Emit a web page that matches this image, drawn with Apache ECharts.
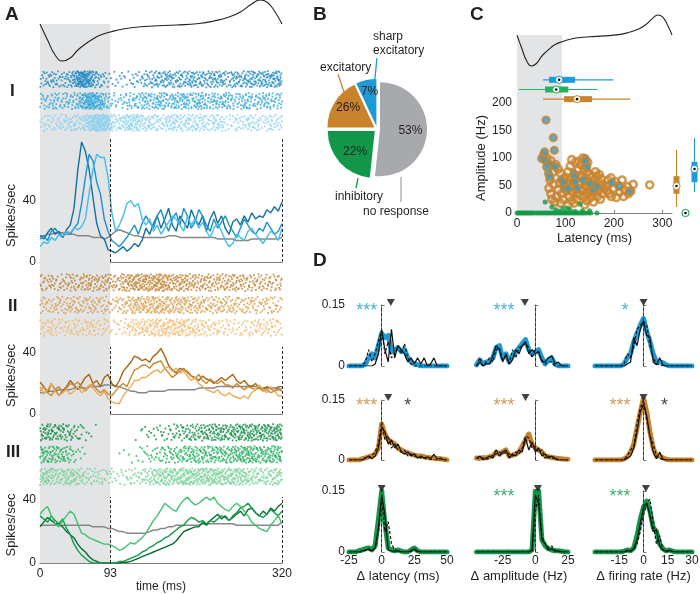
<!DOCTYPE html>
<html><head><meta charset="utf-8">
<script src="https://cdn.jsdelivr.net/npm/echarts@6/dist/echarts.min.js"></script>
<style>html,body{margin:0;padding:0;background:#fff}#c{width:700px;height:594px}</style>
</head><body><div id="c"></div>
<script>
// ================= DATA =================
// Panel A : PSTH time base (ms) and traces (spikes/sec)
const timeMs = [0,5,10,15,20,25,30,35,40,45,50,55,60,65,70,75,80,85,90,95,100,105,110,115,120,125,130,135,140,145,150,155,160,165,170,175,180,185,190,195,200,205,210,215,220,225,230,235,240,245,250,255,260,265,270,275,280,285,290,295,300,305,310,315,320];
const psthIDark  = [17,15,19,22,18,20,16,21,24,35,60,78,72,60,42,25,17,15,8,7,6,8,10,7,9,12,10,14,22,18,25,30,22,28,35,24,20,30,26,22,34,28,24,30,20,28,33,25,30,22,18,26,28,24,30,26,32,28,30,29,34,32,36,33,39];
const psthIMid   = [15,17,14,20,22,18,16,20,18,22,25,38,55,70,66,52,44,28,20,14,12,10,13,16,20,24,18,25,30,26,22,30,34,26,20,28,32,24,35,30,22,26,34,30,24,20,28,22,26,30,24,20,16,22,28,24,20,18,22,20,26,22,18,20,25];
const psthILight = [10,13,12,16,14,18,17,20,19,22,21,23,28,45,60,70,68,68,55,32,20,24,30,38,40,36,38,28,24,28,20,24,18,22,26,30,28,24,20,30,24,28,22,26,20,16,22,25,20,14,10,12,18,16,14,20,22,18,15,12,16,20,18,14,22];
const psthIBase  = [17,17,18,18,19,19,19,18,18,18,17,17,17,17,16,16,16,15,16,18,20,21,20,19,18,17,17,16,16,16,16,16,16,16,17,17,17,16,16,16,16,16,16,16,16,16,16,15,15,15,15,15,14,14,14,14,15,15,15,15,15,15,15,15,16];
const psthIIDark  = [21,18,14,20,16,12,15,18,22,19,16,20,24,26,20,22,18,24,26,20,18,22,28,31,34,38,37,35,36,34,38,40,43,38,32,29,27,30,29,28,25,24,22,25,23,22,20,22,24,22,24,26,22,20,22,19,18,20,17,16,18,17,15,18,18];
const psthIIMid   = [15,18,14,12,16,18,14,17,20,19,21,18,15,18,20,16,14,16,13,12,15,18,20,18,24,29,30,32,32,30,33,34,35,30,27,24,26,28,30,27,25,23,26,22,20,23,21,20,22,19,19,17,20,18,16,18,17,16,17,15,16,14,15,16,15];
const psthIILight = [18,13,16,20,15,12,14,16,13,15,18,14,16,19,17,14,12,15,10,8,7,7,12,15,18,22,22,24,24,26,28,29,27,30,31,28,30,27,28,25,22,24,20,18,16,15,14,16,13,12,14,12,11,10,12,10,14,16,19,16,14,18,15,12,12];
const psthIIBase  = [14,14,15,15,15,16,16,16,16,17,17,17,17,18,18,18,18,19,19,19,18,18,17,16,15,15,14,14,14,15,15,15,15,15,16,16,16,16,16,16,16,16,17,17,17,17,17,18,18,18,18,18,18,18,18,18,18,18,17,17,17,17,17,17,16];
const psthIIIDark  = [23,26,29,27,25,25,23,20,18,16,12,9,7,4,2,1,0,0,0,0,0,0,0.5,0.5,1,2,3,4,5,6,7,8,9,10,11,12,14,17,20,21,22,23,23,26,24,27,29,31,28,30,27,29,31,33,30,34,35,32,30,33,31,35,33,36,38];
const psthIIIMid   = [30,28,26,30,27,25,28,22,18,12,8,5,3,1,0,0,0,0,0,0,0,1,1,2,3,4,5,7,8,10,11,13,14,16,17,19,21,23,24,27,29,28,26,27,25,27,26,28,30,29,27,30,32,35,36,38,35,32,30,29,31,34,32,30,33];
const psthIIILight = [31,34,36,30,25,23,27,30,33,31,25,19,18,16,15,14,13,12,12,11,10,8,9,11,13,12,14,16,19,23,27,30,34,38,36,34,33,37,40,42,39,37,38,40,42,40,42,38,36,34,33,36,38,36,33,30,26,24,22,21,20,24,27,30,25];
const psthIIIBase  = [24,24,24,24,24,24,24,24,24,24,24,24,24,24,23,23,23,23,22,22,21,20,20,19,19,19,19,19,19,20,21,21,22,22,23,23,24,24,24,24,24,24,24,25,25,25,25,25,25,25,25,25,24,24,24,24,24,24,24,24,24,24,24,24,26];
// mean spike waveform (arbitrary units) drawn above A and C
const waveT = [0,10,20,30,40,50,60,70,80,93,110,130,150,180,210,230,250,265,280,291,300,310,320];
const waveV = [37,21,6,0,3,11,17,22,26,29,32,34,35,36,37.5,40,44,49,57,61,59,50,37];
const responseWindowMs = 93;
const timeTicks = [0,93,320];

// Panel B : pie
const pieNames  = ['no response','inhibitory','excitatory','sharp excitatory'];
const pieShares = [51.7,23.3,18,7];
const pieLabels = ['53%','22%','26%','7%'];

// Panel C : latency (ms) vs amplitude (Hz)
const excPoints = [[62,100],[55,105],[70,95],[80,88],[85,80],[75,75],[68,60],[90,72],[66,45],[70,35],[72,25],[78,20],[82,30],[85,42],[75,52],[88,55],[92,35],[95,25],[90,18],[98,48],[100,65],[105,75],[110,85],[113,97],[120,92],[127,94],[132,88],[138,80],[145,75],[150,70],[155,65],[160,60],[165,67],[170,55],[175,50],[180,45],[185,40],[190,35],[195,30],[102,40],[108,30],[112,22],[118,18],[124,25],[130,32],[136,40],[142,48],[148,55],[154,45],[160,38],[166,30],[172,25],[178,35],[184,50],[188,60],[104,55],[110,62],[116,50],[122,42],[128,55],[134,65],[140,58],[146,35],[152,28],[158,20],[164,45],[170,70],[106,15],[114,38],[120,68],[126,78],[132,45],[138,30],[144,22],[150,42],[156,52],[162,75],[168,40],[174,62],[96,62],[118,58],[128,68],[142,85],[136,100],[146,92],[108,48],[124,35],[140,15],[155,35],[194,64],[203,57],[210,50],[217,60],[222,42],[228,48],[235,40],[240,52],[230,35],[212,38],[200,45],[205,28],[220,30],[274,51]];
const sharpPoints = [[60,169],[75,137],[77,114],[57,111],[51,99],[58,96],[65,90],[72,87],[79,84],[61,84],[65,72],[68,65],[141,99],[142,93],[144,84],[117,72],[119,66],[120,57],[92,60],[96,54],[99,45],[106,44],[124,45],[137,60],[151,54],[158,42],[165,48],[196,55],[211,48],[233,39]];
const inhPoints = [[0,0],[3,0],[6,0],[9,0],[12,0],[15,0],[18,0],[21,0],[24,0],[27,0],[30,0],[33,0],[38,0],[42,0],[46,0],[50,0],[54,0],[58,0],[62,0],[66,0],[70,0],[74,0],[78,0],[82,0],[86,0],[90,0],[94,0],[98,0],[102,0],[106,0],[110,0],[114,0],[118,0],[122,0],[126,0],[130,0],[134,0],[138,0],[142,0],[147,0],[152,0],[165,0],[58,20],[130,16],[72,11],[95,8],[110,5],[150,4],[80,6],[120,3],[88,3],[100,2],[135,4],[105,9]];
// box summaries: [whiskerLow, q1, median, q3, whiskerHigh]
const latBoxSharp = [54,66,87,120,199];
const latBoxInh   = [4,58,81,106,166];
const latBoxExc   = [54,97,124,155,234];
const ampBoxExc   = [11,35,49,67,115];
const ampBoxInh   = [0,0,0,0,0];
const ampBoxSharp = [38,56,80,93,136];

// Panel D : distributions (probability)
const dLatX = [-25,-22.5,-20,-17.5,-15,-12.5,-10,-7.5,-5,-2.5,0,2.5,5,7.5,10,12.5,15,17.5,20,22.5,25,27.5,30,32.5,35,37.5,40,42.5,45,47.5,50];
const dAmpX = [-45,-42.5,-40,-37.5,-35,-32.5,-30,-27.5,-25,-22.5,-20,-17.5,-15,-12.5,-10,-7.5,-5,-2.5,0,2.5,5,7.5,10,12.5,15,17.5,20,22.5,25];
const dFrX  = [-30,-28,-26,-24,-22,-20,-18,-16,-14,-12,-10,-8,-6,-4,-2,0,2,4,6,8,10,12,14,16,18,20,22,24,26,28,30];
const latSharpPop   = [0,0,0,0,0,0.005,0.02,0.03,0.02,0.05,0.08,0.07,0.075,0.035,0.04,0.045,0.035,0.04,0.02,0.01,0.005,0.003,0,0,0,0,0,0,0,0,0];
const latSharpSolid = [0,0,0,0,0,0,0,0,0.005,0.03,0.09,0.04,0.01,0.09,0.02,0.05,0.04,0.03,0.01,0.02,0.005,0.02,0.005,0.02,0,0.005,0.02,0,0,0,0];
const latSharpDash  = [0,0,0,0,0,0.01,0.04,0.01,0.03,0.06,0.09,0.03,0.06,0.02,0.03,0.05,0.03,0.055,0.02,0.005,0,0,0,0,0,0,0,0,0,0,0];
const latExcPop     = [0,0,0,0,0.003,0.005,0.008,0.01,0.015,0.03,0.09,0.065,0.05,0.045,0.04,0.03,0.025,0.02,0.018,0.015,0.012,0.01,0.01,0.008,0.006,0.005,0.005,0.004,0.003,0.002,0];
const latExcSolid   = [0,0,0,0,0,0.005,0.01,0.003,0.01,0.03,0.08,0.07,0.04,0.05,0.03,0.04,0.02,0.015,0.02,0.01,0.015,0.005,0.01,0.005,0.008,0.003,0.015,0.002,0.005,0,0];
const latExcDash    = [0,0,0,0,0,0.005,0.005,0.01,0.02,0.04,0.095,0.05,0.06,0.03,0.04,0.025,0.02,0.025,0.01,0.015,0.01,0.008,0.005,0.005,0.003,0.002,0,0,0,0,0];
const latInhPop     = [0,0,0,0.003,0.005,0.008,0.01,0.005,0.015,0.08,0.15,0.07,0.01,0.005,0.003,0.005,0.002,0,0,0.005,0.01,0.003,0,0,0,0,0,0,0,0,0];
const latInhSolid   = [0,0,0,0,0.003,0.005,0.008,0.003,0.01,0.06,0.14,0.09,0.005,0.003,0.002,0.003,0,0,0,0.003,0.008,0.002,0,0,0,0,0,0,0,0,0];
const latInhDash    = [0,0,0,0,0,0.004,0.005,0.003,0.01,0.05,0.13,0.05,0.075,0.02,0.005,0.003,0,0,0,0.002,0.005,0,0,0,0,0,0,0,0,0,0];
const ampSharpPop   = [0.003,0.015,0.005,0.01,0.01,0.02,0.045,0.05,0.02,0.03,0.01,0.025,0.035,0.045,0.055,0.065,0.04,0.03,0.035,0.04,0.02,0.005,0.015,0.02,0.005,0,0,0,0];
const ampSharpSolid = [0,0.01,0,0.005,0.005,0.025,0.05,0.04,0.01,0.03,0.005,0.015,0.04,0.03,0.05,0.06,0.03,0.04,0.03,0.035,0.01,0.01,0.02,0.025,0.005,0.01,0,0,0];
const ampSharpDash  = [0,0.02,0,0.01,0.02,0.01,0.04,0.045,0.015,0.025,0.005,0.04,0.02,0.045,0.05,0.055,0.045,0.02,0.04,0.035,0.015,0.005,0.01,0.01,0,0,0,0,0];
const ampExcPop     = [0.005,0.004,0.006,0.005,0.008,0.01,0.02,0.015,0.02,0.025,0.01,0.012,0.015,0.02,0.035,0.05,0.065,0.04,0.03,0.025,0.02,0.01,0.008,0.006,0.005,0.004,0.003,0.002,0.002];
const ampExcSolid   = [0.005,0.01,0,0.005,0.01,0.005,0.025,0.01,0.02,0.025,0.005,0.015,0.01,0.025,0.02,0.055,0.025,0.045,0.02,0.03,0.01,0.015,0.005,0.01,0.003,0,0,0,0];
const ampExcDash    = [0.003,0.006,0.005,0.002,0.006,0.012,0.015,0.02,0.015,0.02,0.015,0.01,0.02,0.015,0.03,0.06,0.055,0.03,0.035,0.02,0.025,0.005,0.01,0.003,0.008,0,0,0,0];
const ampInhPop     = [0,0,0,0,0,0,0,0,0,0,0,0,0,0,0,0,0,0.005,0.15,0.15,0.03,0.015,0.008,0.005,0.003,0.003,0.002,0,0];
const ampInhSolid   = [0,0,0,0,0,0,0,0,0,0,0,0,0,0,0,0,0,0.005,0.14,0.12,0.03,0.02,0.005,0.008,0.002,0.003,0,0,0];
const ampInhDash    = [0,0,0,0,0,0,0,0,0,0,0,0,0,0,0,0,0,0.002,0.1,0.14,0.04,0.02,0.01,0.015,0.005,0,0,0,0];
const frSharpPop    = [0,0,0,0,0,0,0,0,0,0.005,0.02,0.03,0.06,0.08,0.1,0.117,0.085,0.06,0.03,0.01,0.01,0.008,0.003,0,0,0,0,0,0,0,0];
const frSharpSolid  = [0,0,0,0,0,0,0,0,0,0,0.005,0.01,0.07,0.05,0.09,0.11,0.075,0.07,0.01,0.003,0.02,0.003,0,0,0,0,0,0,0,0,0];
const frSharpDash   = [0,0,0,0,0,0,0,0,0,0.005,0.03,0.02,0.05,0.09,0.1,0.11,0.1,0.05,0.02,0.005,0.003,0,0,0,0,0,0,0,0,0,0];
const frExcPop      = [0,0,0,0,0,0,0,0,0,0.003,0.008,0.02,0.04,0.08,0.12,0.155,0.12,0.07,0.03,0.01,0.01,0.005,0.002,0,0,0,0,0,0,0,0];
const frExcSolid    = [0,0,0,0,0,0,0,0,0,0,0.005,0.01,0.03,0.07,0.12,0.14,0.11,0.06,0.02,0.003,0.02,0.002,0,0,0,0,0,0,0,0,0];
const frExcDash     = [0,0,0,0,0,0,0,0,0,0.002,0.01,0.025,0.035,0.09,0.13,0.15,0.1,0.06,0.04,0.01,0.005,0,0,0,0,0,0,0,0,0,0];
const frInhPop      = [0,0,0,0,0,0,0,0,0,0.002,0.005,0.003,0.01,0.04,0.08,0.11,0.125,0.1,0.06,0.05,0.02,0.008,0.003,0.005,0.002,0,0,0,0,0,0];
const frInhSolid    = [0,0,0,0,0,0,0,0,0,0,0.004,0.002,0.008,0.03,0.07,0.11,0.12,0.09,0.05,0.055,0.015,0.005,0.002,0.004,0.001,0,0,0,0,0,0];
const frInhDash     = [0,0,0,0,0,0,0,0,0,0,0.003,0.003,0.006,0.02,0.05,0.09,0.12,0.13,0.07,0.02,0.04,0.005,0.002,0.003,0,0,0,0,0,0,0];
const dMedians = [[7,-8,0],[5,-7.5,0],[0,2,1.5]];
const starRow   = [0,0,0,1,1,1,1,1,2,2];
const starCol   = [0,1,2,0,0,1,2,2,1,2];
const starX     = [-11.5,-24,-11.5,-11.5,20,-24,-14.5,13,-24,-14.5];
const starText  = ['***','***','*','***','*','***','***','*','***','***'];
const starGroup = [0,0,0,1,-1,1,1,-1,2,2];

// ================= STYLE / LAYOUT =================
const FONT = '"Liberation Sans", Arial, Helvetica, sans-serif';
const TXT = '#231f20', AXC = '#7f7f7f';
const BLUE = '#1d9bd7', ORANGE = '#c8832c', GREEN = '#12964a', PIEGRAY = '#a7a9ac';
const groupColor = [BLUE, ORANGE, GREEN];
const psthCols = [['#13709f','#1c93c9','#45bde8'],['#a8640f','#c98a35','#e8ab5c'],['#056d30','#109c49','#3fc170']];
const rasterCols = [['#1a87c1','#29a6db','#85cff0'],['#c07e2a','#d79a42','#f0b768'],['#0b8b41','#1aae58','#74d093']];
const psthSets = [[psthIDark,psthIMid,psthILight,psthIBase],[psthIIDark,psthIIMid,psthIILight,psthIIBase],[psthIIIDark,psthIIIMid,psthIIILight,psthIIIBase]];

const grids = [], xAxes = [], yAxes = [], series = [];
function addGrid(box, xa, ya) {
  grids.push(Object.assign({containLabel:false, outerBoundsMode:'none', show:false}, box));
  const gi = grids.length - 1;
  xAxes.push(Object.assign({gridIndex:gi}, xa));
  yAxes.push(Object.assign({gridIndex:gi}, ya));
  return gi;
}
const hid = (min, max, extra) => Object.assign({type:'value', min, max, show:false}, extra || {});
const axLine = {show:true, lineStyle:{color:AXC, width:1}};
const labelStyle = {color:TXT, fontSize:12, fontFamily:FONT};
const zip = (xs, ys) => xs.map((x, i) => [x, ys[i]]);

// ---- A: background shading, waveform
let g = addGrid({left:40, top:24, width:242, height:539}, hid(0,320), hid(0,1));
series.push({type:'line', xAxisIndex:g, yAxisIndex:g, data:[], z:0, silent:true,
  markArea:{silent:true, itemStyle:{color:'#e3e4e6'}, data:[[{xAxis:0},{xAxis:responseWindowMs}]]}});
g = addGrid({left:40, top:0, width:242, height:61}, hid(0,320), hid(0,61));
series.push({type:'line', xAxisIndex:g, yAxisIndex:g, data:zip(waveT, waveV), smooth:0.5, showSymbol:false, clip:false,
  lineStyle:{color:'#222', width:1.1}, silent:true});

// ---- A: rasters. Dots come from a Halton point set warped through each trace's
// cumulative firing rate, so dot density follows the PSTH values read above.
const RASTER_DENSITY = 75, BAND_ROWS = 15;
function rateAt(rates, t) {
  const i = Math.min(Math.floor(t / 5), timeMs.length - 2);
  const f = (t - timeMs[i]) / 5;
  return rates[i] * (1 - f) + rates[i + 1] * f;
}
function halton(i, b) { let f = 1, r = 0; while (i > 0) { f /= b; r += f * (i % b); i = Math.floor(i / b); } return r; }
function spikeRaster(rates, band, panel) {
  const cum = [0];
  for (let t = 1; t <= 320; t++) cum.push(cum[t - 1] + (rateAt(rates, t - 1) + rateAt(rates, t)) / 2000);
  const total = cum[320], n = Math.round(total * RASTER_DENSITY), out = [];
  const off = 1 + band * 1777 + panel * 5333;
  for (let i = 0; i < n; i++) {
    const u = halton(i + off, 2) * total;
    const v = halton(i + off, 3);
    let lo = 0, hi = 320;
    while (hi - lo > 1) { const m = (lo + hi) >> 1; if (cum[m] < u) lo = m; else hi = m; }
    const d = cum[hi] - cum[lo];
    const t = d > 0 ? lo + (u - cum[lo]) / d : lo;
    out.push([t, band * 20 + v * BAND_ROWS]);
  }
  return out;
}
const rasterBoxes = [{top:70,height:62},{top:273,height:64},{top:423,height:63}];
const psthBoxes = [{top:139,height:123,max:80,namePad:[0,30,0,0]},{top:347,height:67,max:44,namePad:[0,0,0,10]},{top:497,height:66,max:42,namePad:[0,0,0,10]}];
for (let p = 0; p < 3; p++) {
  g = addGrid({left:40, width:242, top:rasterBoxes[p].top, height:rasterBoxes[p].height}, hid(0,320), hid(-1,56,{inverse:true}));
  for (let b = 0; b < 3; b++) {
    series.push({type:'scatter', xAxisIndex:g, yAxisIndex:g, data:spikeRaster(psthSets[p][b], b, p), symbol:'rect',
      symbolSize:1.8, itemStyle:{color:rasterCols[p][b]}, silent:true, animation:false});
  }
  const last = p === 2;
  g = addGrid({left:40, width:242, top:psthBoxes[p].top, height:psthBoxes[p].height},
    {type:'value', min:0, max:320, axisLine:axLine, splitLine:{show:false},
     axisTick:{show:last, inside:true, length:3, customValues:timeTicks, lineStyle:{color:AXC}},
     axisLabel:Object.assign({show:last, margin:5, customValues:timeTicks}, labelStyle),
     name: last ? 'time (ms)' : '', nameLocation:'middle', nameGap:15, nameTextStyle:{color:TXT, fontSize:12, fontFamily:FONT}},
    {type:'value', min:0, max:psthBoxes[p].max, interval:20, axisLine:axLine, splitLine:{show:false},
     axisTick:{show:true, inside:true, length:3, lineStyle:{color:AXC}},
     axisLabel:Object.assign({margin:4, formatter:v => (v === 0 || v === 40) ? String(v) : ''}, labelStyle),
     name:'Spikes/sec', nameLocation:'middle', nameGap:22,
     nameTextStyle:{color:TXT, fontSize:13, fontFamily:FONT, padding:psthBoxes[p].namePad}});
  series.push({type:'line', xAxisIndex:g, yAxisIndex:g, data:zip(timeMs, psthSets[p][3]), showSymbol:false, silent:true,
    lineStyle:{color:'#878787', width:1.5},
    markLine:{silent:true, symbol:['none','none'], label:{show:false}, lineStyle:{type:[3,2], color:'#333', width:1},
      data:[{xAxis:responseWindowMs},{xAxis:320}]}});
  for (let b = 0; b < 3; b++) {
    series.push({type:'line', xAxisIndex:g, yAxisIndex:g, data:zip(timeMs, psthSets[p][b]), showSymbol:false, silent:true,
      lineStyle:{color:psthCols[p][b], width:1.4}});
  }
}

// ---- B: pie
series.push({type:'pie', center:[377,129], radius:47, startAngle:90, clockwise:true, selectedMode:'multiple',
  selectedOffset:3, silent:true, animation:false, emphasis:{disabled:true},
  label:{show:true, position:'inside', formatter:p => pieLabels[p.dataIndex], color:TXT, fontSize:12, fontFamily:FONT},
  labelLine:{show:false},
  labelLayout:p => [{dx:4,dy:0},{dx:0,dy:3},{dx:-4,dy:-6},{dx:-1,dy:-9}][p.dataIndex],
  data:pieNames.map((n, i) => ({name:n, value:pieShares[i], selected:true,
    itemStyle:{color:[PIEGRAY, GREEN, ORANGE, BLUE][i]}}))});

// ---- C: shading, waveform, scatter, box plots
g = addGrid({left:517, top:35, width:155, height:178}, hid(0,320), hid(0,1));
series.push({type:'line', xAxisIndex:g, yAxisIndex:g, data:[], z:0, silent:true,
  markArea:{silent:true, itemStyle:{color:'#e3e4e6'}, data:[[{xAxis:0},{xAxis:responseWindowMs}]]}});
g = addGrid({left:517, top:15, width:155, height:51}, hid(0,320), hid(0,61));
series.push({type:'line', xAxisIndex:g, yAxisIndex:g, data:zip(waveT, waveV), smooth:0.5, showSymbol:false, clip:false,
  lineStyle:{color:'#222', width:1.1}, silent:true});
g = addGrid({left:517, top:103, width:155, height:110},
  {type:'value', min:0, max:320, axisLine:axLine, splitLine:{show:false},
   axisTick:{show:true, inside:true, length:3, customValues:[0,100,200,300], lineStyle:{color:AXC}},
   axisLabel:Object.assign({margin:5, customValues:[0,100,200,300]}, labelStyle),
   name:'Latency (ms)', nameLocation:'middle', nameGap:19, nameTextStyle:{color:TXT, fontSize:13, fontFamily:FONT}},
  {type:'value', min:0, max:200, interval:50, axisLine:axLine, splitLine:{show:false},
   axisTick:{show:true, inside:true, length:3, lineStyle:{color:AXC}},
   axisLabel:Object.assign({margin:5}, labelStyle),
   name:'Amplitude (Hz)', nameLocation:'middle', nameGap:29, nameTextStyle:{color:TXT, fontSize:13, fontFamily:FONT}});
series.push({type:'scatter', xAxisIndex:g, yAxisIndex:g, data:excPoints, symbolSize:7, silent:true, clip:false,
  itemStyle:{color:'rgba(255,255,255,0)', borderColor:ORANGE, borderWidth:2.6}});
series.push({type:'scatter', xAxisIndex:g, yAxisIndex:g, data:sharpPoints, symbolSize:7, silent:true, clip:false,
  itemStyle:{color:'#27a2d8', borderColor:ORANGE, borderWidth:2.2}});
series.push({type:'scatter', xAxisIndex:g, yAxisIndex:g, data:inhPoints, symbolSize:5, silent:true, clip:false,
  itemStyle:{color:'#139a45'}});

function boxRenderer(horizontal, colors) {
  return function (params, api) {
    const c = api.value(0);
    const P = v => horizontal ? api.coord([v, c]) : api.coord([c, v]);
    const lo = P(api.value(1)), q1 = P(api.value(2)), md = P(api.value(3)), q3 = P(api.value(4)), hi = P(api.value(5));
    const col = colors[params.dataIndex], w = 3;
    const rect = horizontal ? {x:q1[0], y:q1[1]-w, width:q3[0]-q1[0], height:2*w}
                            : {x:q1[0]-w, y:q3[1], width:2*w, height:q1[1]-q3[1]};
    return {type:'group', children:[
      {type:'line', shape:{x1:lo[0], y1:lo[1], x2:hi[0], y2:hi[1]}, style:{stroke:col, lineWidth:1.1}},
      {type:'rect', shape:rect, style:{fill:col}},
      {type:'circle', shape:{cx:md[0], cy:md[1], r:3.6}, style:{fill:'#fff', stroke:col, lineWidth:1}},
      {type:'circle', shape:{cx:md[0], cy:md[1], r:1.3}, style:{fill:'#111'}}]};
  };
}
g = addGrid({left:517, top:75, width:155, height:29}, hid(0,320),
  {type:'category', data:['sharp excitatory','inhibitory','excitatory'], inverse:true, show:false});
series.push({type:'custom', xAxisIndex:g, yAxisIndex:g, silent:true, clip:false,
  renderItem:boxRenderer(true, [BLUE, '#22b35c', ORANGE]), encode:{x:[1,2,3,4,5], y:0},
  data:[[0].concat(latBoxSharp), [1].concat(latBoxInh), [2].concat(latBoxExc)]});
g = addGrid({left:672, top:103, width:27, height:110},
  {type:'category', data:['excitatory','inhibitory','sharp excitatory'], show:false}, hid(0,200));
series.push({type:'custom', xAxisIndex:g, yAxisIndex:g, silent:true, clip:false,
  renderItem:boxRenderer(false, [ORANGE, GREEN, BLUE]), encode:{x:0, y:[1,2,3,4,5]},
  data:[[0].concat(ampBoxExc), [1].concat(ampBoxInh), [2].concat(ampBoxSharp)]});

// ---- D: 3x3 distributions
const dCols = [
  {left:349, width:98, min:-25, max:50, ticks:[-25,0,25,50], x:dLatX, name:'\u0394 latency (ms)'},
  {left:470, width:98, min:-50, max:25, ticks:[-25,0,25], x:dAmpX, name:'\u0394 amplitude (Hz)'},
  {left:595, width:97, min:-30, max:30, ticks:[-15,0,15,30], x:dFrX, name:'\u0394 firing rate (Hz)'}];
const dRows = [{top:305, height:61}, {top:400, height:60}, {top:491, height:61}];
const dCurves = [
  [[latSharpPop,latSharpSolid,latSharpDash],[ampSharpPop,ampSharpSolid,ampSharpDash],[frSharpPop,frSharpSolid,frSharpDash]],
  [[latExcPop,latExcSolid,latExcDash],[ampExcPop,ampExcSolid,ampExcDash],[frExcPop,frExcSolid,frExcDash]],
  [[latInhPop,latInhSolid,latInhDash],[ampInhPop,ampInhSolid,ampInhDash],[frInhPop,frInhSolid,frInhDash]]];
const dGrid = [[],[],[]];
for (let r = 0; r < 3; r++) for (let c = 0; c < 3; c++) {
  const C = dCols[c], R = dRows[r], last = r === 2;
  g = addGrid({left:C.left, width:C.width, top:R.top, height:R.height},
    {type:'value', min:C.min, max:C.max, axisLine:{show:false}, axisTick:{show:false}, splitLine:{show:false},
     axisLabel:Object.assign({show:last, margin:3, customValues:C.ticks}, labelStyle),
     name:last ? C.name : '', nameLocation:'middle', nameGap:18, nameTextStyle:{color:TXT, fontSize:13, fontFamily:FONT}},
    {type:'value', min:0, max:0.15, interval:0.15, axisLine:axLine, splitLine:{show:false},
     axisTick:{show:true, inside:true, length:3, lineStyle:{color:AXC}},
     axisLabel:Object.assign({show:c === 0, margin:4, formatter:v => v === 0 ? '0' : '0.15'}, labelStyle)});
  dGrid[r][c] = g;
  const cur = dCurves[r][c];
  series.push({type:'line', xAxisIndex:g, yAxisIndex:g, data:zip(C.x, cur[0]), showSymbol:false, silent:true, z:2,
    lineStyle:{color:groupColor[r], width:5, join:'round', cap:'round'},
    markLine:{silent:true, symbol:['none','none'], label:{show:false}, lineStyle:{type:[3,2], color:'#333', width:1}, data:[{xAxis:0}]}});
  series.push({type:'line', xAxisIndex:g, yAxisIndex:g, data:zip(C.x, cur[2]), showSymbol:false, silent:true, z:3,
    lineStyle:{color:'#111', width:1.2, type:[3,2]}});
  series.push({type:'line', xAxisIndex:g, yAxisIndex:g, data:zip(C.x, cur[1]), showSymbol:false, silent:true, z:4,
    lineStyle:{color:'#111', width:1.2}});
  series.push({type:'scatter', xAxisIndex:g, yAxisIndex:g, data:[[dMedians[r][c], 0.156]], symbol:'triangle', symbolRotate:180,
    symbolSize:[8,7], clip:false, silent:true, z:5, itemStyle:{color:'#111'}});
}
for (let i = 0; i < starText.length; i++) {
  const gi = dGrid[starRow[i]][starCol[i]];
  series.push({type:'scatter', xAxisIndex:gi, yAxisIndex:gi, data:[[starX[i], 0.136, starText[i]]], symbolSize:1, clip:false, silent:true, z:6,
    itemStyle:{color:'rgba(0,0,0,0)'},
    label:{show:true, position:'inside', formatter:p => p.value[2], fontSize:18, fontFamily:FONT,
      color: starGroup[i] < 0 ? '#111' : groupColor[starGroup[i]]}});
}

// ---- annotations
const T = (x, y, text, font, color) => ({type:'text', x, y, silent:true,
  style:{text, font, fill:color || TXT, verticalAlign:'middle', align:'left'}});
const L = (x1, y1, x2, y2, color) => ({type:'line', silent:true, shape:{x1, y1, x2, y2}, style:{stroke:color, lineWidth:1.3}});
const graphics = [
  T(5, 15, 'A', 'bold 19px ' + FONT), T(313, 15, 'B', 'bold 19px ' + FONT), T(470, 15, 'C', 'bold 19px ' + FONT), T(313, 261, 'D', 'bold 19px ' + FONT),
  T(10, 91, 'I', 'bold 17px ' + FONT), T(8, 306, 'II', 'bold 17px ' + FONT), T(6, 452, 'III', 'bold 17px ' + FONT),
  T(373, 37, 'sharp', '12px ' + FONT), T(373, 51, 'excitatory', '12px ' + FONT),
  T(320, 68, 'excitatory', '12px ' + FONT), T(335, 197, 'inhibitory', '12px ' + FONT), T(363, 212, 'no response', '12px ' + FONT),
  L(377, 58, 374, 87, BLUE), L(338, 74, 344, 92, ORANGE), L(358, 178, 356, 188, GREEN), L(401, 177, 401, 202, PIEGRAY)
];

const chart = echarts.init(document.getElementById('c'), null, {renderer:'canvas', width:700, height:594});
chart.setOption({animation:false, backgroundColor:'#fff', textStyle:{fontFamily:FONT},
  grid:grids, xAxis:xAxes, yAxis:yAxes, series, graphic:graphics});
</script></body></html>
